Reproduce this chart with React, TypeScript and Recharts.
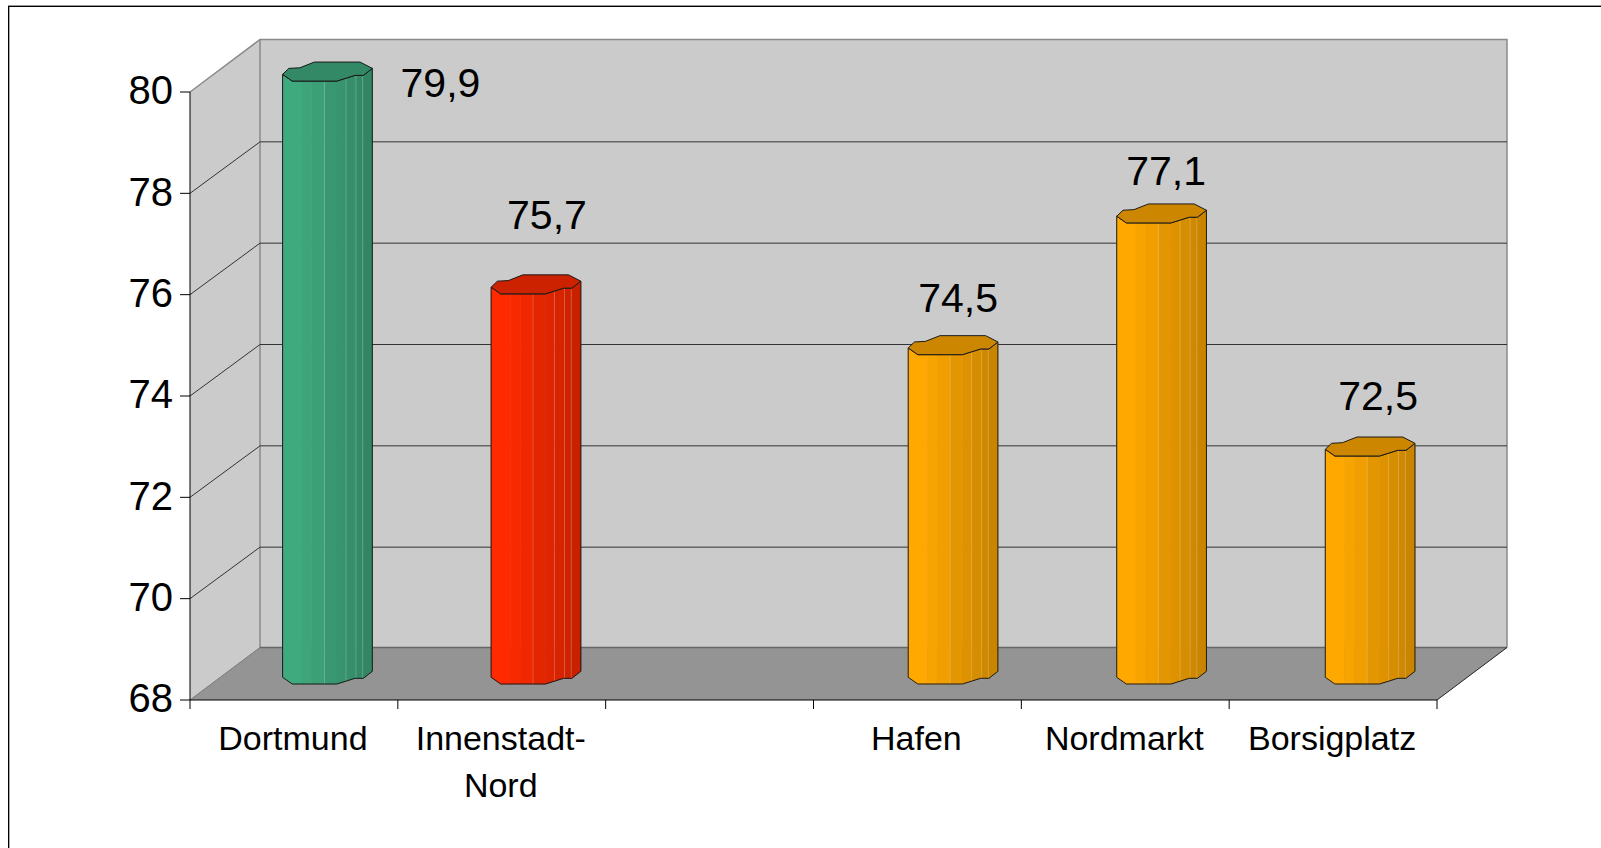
import React from "react";
import { Bar, BarChart, CartesianGrid, LabelList, XAxis, YAxis } from "recharts";

// values; the third slot is an empty gap on the axis
const categories = ["Dortmund", "Innenstadt-\nNord", "", "Hafen", "Nordmarkt", "Borsigplatz"];
const lifeExpectancy = [79.9, 75.7, null, 74.5, 77.1, 72.5];
const yTicks = [68, 70, 72, 74, 76, 78, 80];

const data = categories.map((name, i) => ({ name, value: lifeExpectancy[i] }));

// colours per category
const barColors = [
  [64, 170, 127],
  [255, 42, 0],
  [255, 168, 0],
  [255, 168, 0],
  [255, 168, 0],
  [255, 168, 0],
];

const WIDTH = 1601;
const HEIGHT = 848;
const LEFT = 190;
const RIGHT = 1437;
const TOP = 92;
const BOTTOM = 700;
const DEPTH_X = 70;
const DEPTH_Y = 52.5;
const GRID_DEPTH_Y = 51.5;
const BAND = (RIGHT - LEFT) / categories.length;
const BAR_WIDTH = 89.7;
const FONT = '"Liberation Sans", Arial, sans-serif';

// the column outline: [fraction of width, px above the lowest front point]
const frontEdge = [
  [0, 6.7],
  [0.107, 0],
  [0.605, 0],
  [0.808, 5.7],
  [0.9, 5.7],
  [1, 12.7],
];
const backEdge = [
  [1, 12.7],
  [0.863, 19],
  [0.354, 19],
  [0.192, 13.3],
  [0.07, 12.7],
  [0, 6.7],
];
const facetEdges = [0, 0.215, 0.326, 0.467, 0.607, 0.707, 0.818, 0.893, 1];
const facetShades = [1, 0.97, 0.94, 0.89, 0.87, 0.84, 0.81, 0.79];
const paleEdges = [0.467, 0.707, 0.818, 0.893];

// label nudges from the column's centre / front top
const labelOffsets = [
  [113, 2],
  [11, -79],
  [0, 0],
  [5, -57],
  [4.5, -51.5],
  [8, -60],
];

function frontLift(u: number) {
  for (let i = 1; i < frontEdge.length; i++) {
    const [u0, v0] = frontEdge[i - 1];
    const [u1, v1] = frontEdge[i];
    if (u <= u1) return v0 + ((u - u0) / (u1 - u0)) * (v1 - v0);
  }
  return 0;
}

function shade(rgb: number[], k: number) {
  return `rgb(${rgb.map((c) => Math.round(c * k)).join(",")})`;
}

// bars sit a bit into the depth of the box and drift slightly to the right
function barShift(index: number) {
  return 33.6 + index * 0.7;
}

function Column(props: any) {
  const { x, y, width, height, value } = props;
  if (value == null || !height) return null;
  // recharts drops the empty slot from its index, so look the category up
  const index = lifeExpectancy.indexOf(value);
  const rgb = barColors[index];
  const left = x + barShift(index);
  const top = y - 16;
  const bottom = y + height - 16;
  const px = (u: number) => left + u * width;

  const bodyPoints = [
    ...frontEdge.map(([u, v]) => `${px(u)},${bottom - v}`),
    ...[...frontEdge].reverse().map(([u, v]) => `${px(u)},${top - v}`),
  ].join(" ");
  const capPoints = [...frontEdge, ...backEdge].map(([u, v]) => `${px(u)},${top - v}`).join(" ");

  return (
    <g>
      {facetShades.map((k, i) => {
        const u0 = facetEdges[i];
        const u1 = facetEdges[i + 1];
        const w = [u0, ...frontEdge.map((p) => p[0]).filter((u) => u > u0 && u < u1), u1];
        const pts = [
          ...w.map((u) => `${px(u)},${top - frontLift(u)}`),
          ...[...w].reverse().map((u) => `${px(u)},${bottom - frontLift(u)}`),
        ].join(" ");
        return <polygon key={i} points={pts} fill={shade(rgb, k)} stroke={shade(rgb, k)} strokeWidth={0.5} />;
      })}
      {paleEdges.map((u) => (
        <line
          key={u}
          x1={px(u)}
          x2={px(u)}
          y1={top - frontLift(u)}
          y2={bottom - frontLift(u)}
          stroke="#fff"
          strokeOpacity={0.22}
        />
      ))}
      <polygon points={bodyPoints} fill="none" stroke="#1a1a1a" strokeWidth={1} />
      <polygon points={capPoints} fill={shade(rgb, 0.8)} stroke="#1a1a1a" strokeWidth={1} />
    </g>
  );
}

function ValueLabel(props: any) {
  const { x, y, width, value } = props;
  if (value == null) return null;
  const index = lifeExpectancy.indexOf(value);
  const [dx, dy] = labelOffsets[index];
  return (
    <text
      x={x + barShift(index) + width / 2 + dx}
      y={y - 16 + dy}
      textAnchor="middle"
      dominantBaseline="central"
      fontFamily={FONT}
      fontSize={41}
      fill="#000"
    >
      {String(value).replace(".", ",")}
    </text>
  );
}

function CategoryTick(props: any) {
  const { x, y, payload, index } = props;
  const lines = String(payload.value).split("\n");
  const rightEdge = x + BAND / 2;
  return (
    <g>
      {index === 0 ? <line x1={x - BAND / 2} x2={x - BAND / 2} y1={y} y2={y + 9} stroke="#000" /> : null}
      <line x1={rightEdge} x2={rightEdge} y1={y} y2={y + 9} stroke="#000" />
      <text textAnchor="middle" fontFamily={FONT} fontSize={34} fill="#000">
        {lines.map((line, i) => (
          <tspan key={i} x={x - 1} y={y + 50 + i * 47}>
            {line}
          </tspan>
        ))}
      </text>
    </g>
  );
}

function Walls() {
  const bx = LEFT + DEPTH_X;
  const bTop = TOP - DEPTH_Y;
  const bBottom = BOTTOM - DEPTH_Y;
  const bRight = RIGHT + DEPTH_X;
  return (
    <g>
      <polygon points={`${LEFT},${TOP} ${bx},${bTop} ${bx},${bBottom} ${LEFT},${BOTTOM}`} fill="#cbcbcb" />
      <rect x={bx} y={bTop} width={bRight - bx} height={bBottom - bTop} fill="#cbcbcb" />
      <polygon
        points={`${LEFT},${BOTTOM} ${bx},${bBottom} ${bRight},${bBottom} ${RIGHT},${BOTTOM}`}
        fill="#949494"
      />
      <polyline
        points={`${LEFT},${TOP} ${bx},${bTop} ${bRight},${bTop} ${bRight},${bBottom}`}
        fill="none"
        stroke="#8a8a8a"
        strokeWidth={1.5}
      />
      <line x1={bx} x2={bx} y1={bTop} y2={bBottom} stroke="#8a8a8a" strokeWidth={1.5} />
      <line x1={LEFT} x2={bx} y1={BOTTOM} y2={bBottom} stroke="#777" />
      <line x1={bx} x2={bRight} y1={bBottom} y2={bBottom} stroke="#666" strokeWidth={1.5} />
      <line x1={RIGHT} x2={bRight} y1={BOTTOM} y2={bBottom} stroke="#222" />
    </g>
  );
}

// the grid runs up the side wall and then along the back wall
function GridLine(props: any) {
  const { y1, index, key: lineKey } = props;
  const edge = y1 <= TOP + 1 || y1 >= BOTTOM - 1;
  return (
    <g key={lineKey ?? index}>
      {index === 0 ? <Walls /> : null}
      {edge ? null : (
        <polyline
          points={`${LEFT},${y1} ${LEFT + DEPTH_X},${y1 - GRID_DEPTH_Y} ${RIGHT + DEPTH_X},${y1 - GRID_DEPTH_Y}`}
          fill="none"
          stroke="#333"
          strokeWidth={1}
        />
      )}
    </g>
  );
}

export default function App() {
  return (
    <div style={{ position: "absolute", left: 0, top: 0, width: WIDTH, height: HEIGHT, overflow: "hidden" }}>
      <div style={{ position: "absolute", left: 8, top: 5, right: 0, height: 1, background: "#999" }} />
      <div style={{ position: "absolute", left: 8, top: 6, right: 0, height: 1, background: "#000" }} />
      <div style={{ position: "absolute", left: 8, top: 6, bottom: 0, width: 1, background: "#000" }} />
      <div style={{ position: "absolute", left: 9, top: 7, bottom: 0, width: 1, background: "#aaa" }} />
      <BarChart
        width={WIDTH}
        height={HEIGHT}
        data={data}
        margin={{ top: TOP, right: WIDTH - RIGHT, bottom: 0, left: 0 }}
      >
        <CartesianGrid horizontal={GridLine} vertical={false} />
        <XAxis
          dataKey="name"
          height={HEIGHT - BOTTOM}
          interval={0}
          tick={CategoryTick}
          tickLine={false}
          tickSize={0}
          tickMargin={0}
          axisLine={{ stroke: "#000" }}
        />
        <YAxis
          width={LEFT}
          domain={[68, 80]}
          ticks={yTicks}
          interval={0}
          axisLine={{ stroke: "#000" }}
          tickLine={{ stroke: "#000" }}
          tickSize={10}
          tickMargin={7}
          tick={{ fontFamily: FONT, fontSize: 40, fill: "#000", dy: -2 }}
        />
        <Bar dataKey="value" barSize={BAR_WIDTH} shape={Column} isAnimationActive={false}>
          <LabelList dataKey="value" content={ValueLabel} />
        </Bar>
      </BarChart>
    </div>
  );
}
